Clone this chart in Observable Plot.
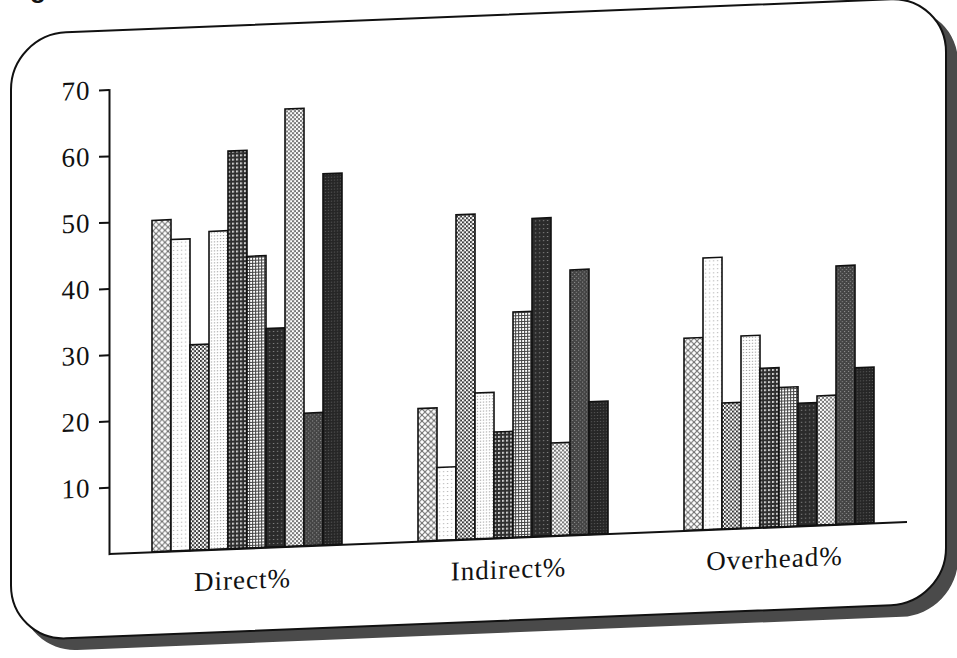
<!DOCTYPE html>
<html>
<head>
<meta charset="utf-8">
<script src="https://cdn.jsdelivr.net/npm/d3@7"></script>
<script src="https://cdn.jsdelivr.net/npm/@observablehq/plot@0.6"></script>
<style>
html, body { margin: 0; padding: 0; background: #fff; overflow: hidden; }
#page { position: relative; width: 957px; height: 658px; overflow: hidden; background: #fff; }
#title { position: absolute; left: 7px; top: -24px; font: bold 26px "Liberation Sans", Arial, sans-serif; line-height: 26px; white-space: nowrap; color: #111; }
#skew { position: absolute; left: 0; top: 0; width: 957px; height: 720px; transform: skewY(-2.3deg); transform-origin: 0 0; }
#frame { position: absolute; left: 10px; top: 34px; width: 933px; height: 604px; border: 2px solid #111; border-radius: 56px; box-shadow: 11px 11px 0 #4a4a4a; background: #fff; }
#chart { position: absolute; left: 0; top: 0; }
</style>
</head>
<body>
<svg width="0" height="0" style="position:absolute">
  <defs>
    <pattern id="p0" width="6" height="6" patternUnits="userSpaceOnUse">
      <rect width="6" height="6" fill="#fff"/>
      <path d="M0,0L6,6M6,0L0,6" stroke="#666" stroke-width="0.9"/>
    </pattern>
    <pattern id="p1" width="4" height="4" patternUnits="userSpaceOnUse">
      <rect width="4" height="4" fill="#fff"/>
      <rect x="1" y="1" width="1" height="1" fill="#999"/>
    </pattern>
    <pattern id="p2" width="4" height="4" patternUnits="userSpaceOnUse">
      <rect width="4" height="4" fill="#fff"/>
      <rect width="2" height="2" fill="#3a3a3a"/>
      <rect x="2" y="2" width="2" height="2" fill="#3a3a3a"/>
    </pattern>
    <pattern id="p3" width="3" height="3" patternUnits="userSpaceOnUse">
      <rect width="3" height="3" fill="#fff"/>
      <rect x="1" y="1" width="1" height="1" fill="#777"/>
    </pattern>
    <pattern id="p4" width="4" height="4" patternUnits="userSpaceOnUse">
      <rect width="4" height="4" fill="#2f2f2f"/>
      <rect width="2" height="2" fill="#cfcfcf"/>
    </pattern>
    <pattern id="p5" width="3" height="3" patternUnits="userSpaceOnUse">
      <rect width="3" height="3" fill="#fff"/>
      <rect width="1" height="3" fill="#444"/>
      <rect width="3" height="1" fill="#444"/>
    </pattern>
    <pattern id="p6" width="4" height="4" patternUnits="userSpaceOnUse">
      <rect width="4" height="4" fill="#2b2b2b"/>
      <rect x="1" y="2" width="1" height="1" fill="#aaa"/>
    </pattern>
    <pattern id="p7" width="4" height="4" patternUnits="userSpaceOnUse">
      <rect width="4" height="4" fill="#fff"/>
      <circle cx="1" cy="1" r="1" fill="#444"/>
      <circle cx="3" cy="3" r="1" fill="#444"/>
    </pattern>
    <pattern id="p8" width="4" height="4" patternUnits="userSpaceOnUse">
      <rect width="4" height="4" fill="#444"/>
      <rect x="0" y="1" width="1" height="1" fill="#999"/>
      <rect x="2" y="3" width="1" height="1" fill="#999"/>
    </pattern>
    <pattern id="p9" width="3" height="3" patternUnits="userSpaceOnUse">
      <rect width="3" height="3" fill="#262626"/>
      <rect x="1" y="1" width="1" height="1" fill="#6a6a6a"/>
    </pattern>
  </defs>
</svg>
<div id="page">
  <div id="title">Figure</div>
  <div id="skew">
    <div id="frame"></div>
    <div id="chart"></div>
  </div>
</div>
<script>
// Categories (groups along the x axis)
const groups = ["Direct%", "Indirect%", "Overhead%"];
// Ten unlabelled series (no legend in the original)
const series = ["S1", "S2", "S3", "S4", "S5", "S6", "S7", "S8", "S9", "S10"];
// Values per group, one per series
const direct   = [50, 47, 31, 48, 60, 44, 33, 66, 20, 56];
const indirect = [20, 11, 49, 22, 16, 34, 48, 14, 40, 20];
const overhead = [29, 41, 19, 29, 24, 21, 18.5, 19.5, 39, 23.5];
// Y tick values
const yTicks = [10, 20, 30, 40, 50, 60, 70];
// Fill patterns per series
const patterns = ["url(#p0)", "url(#p1)", "url(#p2)", "url(#p3)", "url(#p4)",
                  "url(#p5)", "url(#p6)", "url(#p7)", "url(#p8)", "url(#p9)"];

const valuesByGroup = [direct, indirect, overhead];
const data = groups.flatMap((g, gi) =>
  series.map((s, si) => ({group: g, series: s, value: valuesByGroup[gi][si], pattern: patterns[si]}))
);

const chart = Plot.plot({
  width: 957,
  height: 620,
  marginLeft: 109,
  marginRight: 50,
  marginTop: 94,
  marginBottom: 62,
  style: {
    background: "transparent",
    fontFamily: "'Liberation Serif', 'Times New Roman', serif",
    fontSize: "27px",
    color: "#111",
    overflow: "visible",
    letterSpacing: "1px"
  },
  fx: {domain: groups, padding: 0, label: null, axis: null},
  x: {domain: series, paddingInner: 0, paddingOuter: 1.93, align: 0.56, axis: null},
  y: {domain: [0, 70], axis: null},
  color: {type: "identity"},
  marks: [
    Plot.barY(data, {fx: "group", x: "series", y: "value", fill: "pattern", stroke: "#111", strokeWidth: 1.6}),
    Plot.ruleY([0], {stroke: "#111", strokeWidth: 2}),
    Plot.frame({anchor: "left", facetAnchor: "left", stroke: "#111", strokeWidth: 2}),
    Plot.axisY({ticks: yTicks, tickSize: 10, tickPadding: 9, strokeWidth: 2, label: null}),
    Plot.axisFx({anchor: "bottom", tickSize: 0, tickPadding: 21, label: null})
  ]
});
document.getElementById("chart").appendChild(chart);
</script>
</body>
</html>
